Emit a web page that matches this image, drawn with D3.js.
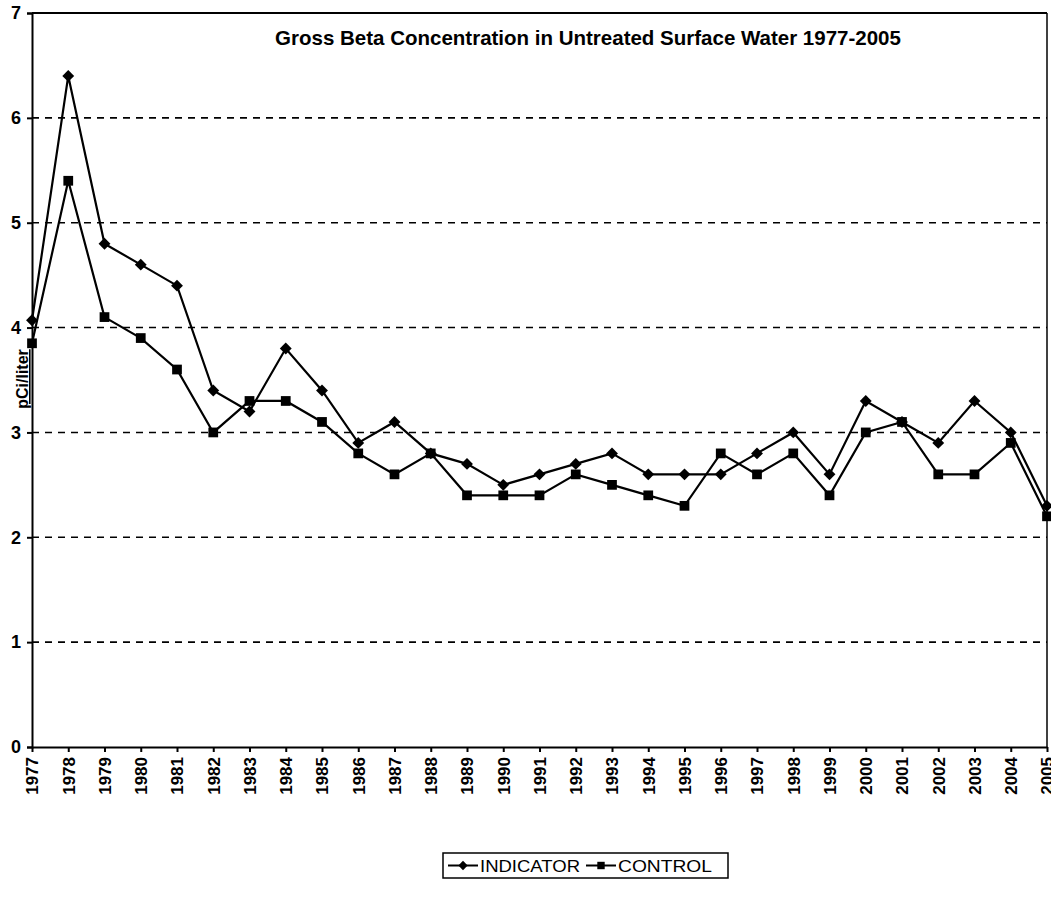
<!DOCTYPE html>
<html>
<head>
  <meta charset="utf-8">
  <title>Gross Beta Concentration</title>
  <script src="https://d3js.org/d3.v7.min.js"></script>
  <style>
    html, body { margin: 0; padding: 0; background: #fff; }
    svg { display: block; font-family: Arial, "Liberation Sans", sans-serif; }
  </style>
</head>
<body>
  <svg width="1051" height="906"></svg>
  <script>
    // Datos
    const years = d3.range(1977, 2006);
    const indicator = [4.07, 6.4, 4.8, 4.6, 4.4, 3.4, 3.2, 3.8, 3.4, 2.9, 3.1, 2.8, 2.7, 2.5, 2.6,
      2.7, 2.8, 2.6, 2.6, 2.6, 2.8, 3.0, 2.6, 3.3, 3.1, 2.9, 3.3, 3.0, 2.3];
    const control = [3.85, 5.4, 4.1, 3.9, 3.6, 3.0, 3.3, 3.3, 3.1, 2.8, 2.6, 2.8, 2.4, 2.4, 2.4,
      2.6, 2.5, 2.4, 2.3, 2.8, 2.6, 2.8, 2.4, 3.0, 3.1, 2.6, 2.6, 2.9, 2.2];
    const yTicks = [0, 1, 2, 3, 4, 5, 6, 7];

    const svg = d3.select("svg");
    const mLeft = 32, mRight = 1047, mTop = 13, mBottom = 747;

    const x = d3.scaleLinear().domain([1977, 2005]).range([mLeft, mRight]);
    const y = d3.scaleLinear().domain([0, 7]).range([mBottom, mTop]);

    // Rejilla
    svg.append("g").selectAll("line")
      .data(yTicks.filter(d => d > 0 && d < 7))
      .enter().append("line")
      .attr("x1", mLeft).attr("x2", mRight)
      .attr("y1", d => y(d)).attr("y2", d => y(d))
      .attr("stroke", "#000").attr("stroke-width", 1.6)
      .attr("stroke-dasharray", "7,6");

    // Marco
    svg.append("line").attr("x1", mLeft).attr("x2", mRight).attr("y1", mTop).attr("y2", mTop)
      .attr("stroke", "#000").attr("stroke-width", 2);
    svg.append("line").attr("x1", mRight).attr("x2", mRight).attr("y1", mTop).attr("y2", mBottom)
      .attr("stroke", "#000").attr("stroke-width", 1.5);

    // Ejes
    const yAxis = svg.append("g").attr("transform", `translate(${mLeft},0)`)
      .call(d3.axisLeft(y).tickValues(yTicks).tickSize(5).tickPadding(6).tickFormat(d3.format("d")));
    yAxis.selectAll("text").attr("font-size", 18).attr("font-weight", "bold").attr("fill", "#000");
    yAxis.selectAll("line, path").attr("stroke", "#000").attr("stroke-width", 2);

    const xAxis = svg.append("g").attr("transform", `translate(0,${mBottom})`)
      .call(d3.axisBottom(x).tickValues(years).tickSize(5).tickSizeOuter(0).tickFormat(d3.format("d")));
    xAxis.select("path").attr("stroke", "#000").attr("stroke-width", 2);
    xAxis.selectAll("line").attr("stroke", "#000").attr("stroke-width", 2);
    xAxis.selectAll("text")
      .attr("font-size", 17).attr("font-weight", "bold").attr("fill", "#000")
      .attr("text-anchor", "end")
      .attr("transform", "rotate(-90)")
      .attr("x", -10).attr("y", 0).attr("dy", "0.35em");

    // Título
    svg.append("text").attr("x", 588).attr("y", 45)
      .attr("text-anchor", "middle").attr("font-size", 20.5).attr("font-weight", "bold")
      .text("Gross Beta Concentration in Untreated Surface Water 1977-2005");

    // Etiqueta eje Y
    svg.append("text")
      .attr("transform", "translate(28,379) rotate(-90)")
      .attr("text-anchor", "middle").attr("font-size", 16).attr("font-weight", "bold")
      .attr("text-decoration", "underline")
      .text("pCi/liter");

    // Series
    const line = d3.line().x((d, i) => x(years[i])).y(d => y(d));
    const series = [
      { name: "INDICATOR", values: indicator, symbol: d3.symbolDiamond2, size: 90 },
      { name: "CONTROL", values: control, symbol: d3.symbolSquare, size: 95 }
    ];

    series.forEach(s => {
      svg.append("path").datum(s.values)
        .attr("d", line).attr("fill", "none")
        .attr("stroke", "#000").attr("stroke-width", 2.2);
      svg.append("g").selectAll("path")
        .data(s.values).enter().append("path")
        .attr("d", d3.symbol().type(s.symbol).size(s.size))
        .attr("transform", (d, i) => `translate(${x(years[i])},${y(d)})`)
        .attr("fill", "#000");
    });

    // Leyenda
    const lg = svg.append("g").attr("transform", "translate(443,853)");
    lg.append("rect").attr("width", 285).attr("height", 25)
      .attr("fill", "#fff").attr("stroke", "#000").attr("stroke-width", 1.5);
    let lx = 5;
    series.forEach(s => {
      lg.append("line").attr("x1", lx).attr("x2", lx + 30).attr("y1", 12.5).attr("y2", 12.5)
        .attr("stroke", "#000").attr("stroke-width", 2);
      lg.append("path").attr("d", d3.symbol().type(s.symbol).size(55))
        .attr("transform", `translate(${lx + 15},12.5)`).attr("fill", "#000");
      const t = lg.append("text").attr("x", lx + 32).attr("y", 19)
        .attr("font-size", 17).attr("textLength", s.name === "INDICATOR" ? 100 : 94)
        .attr("lengthAdjust", "spacingAndGlyphs").text(s.name);
      lx += 32 + (s.name === "INDICATOR" ? 100 : 94) + 6;
    });
  </script>
</body>
</html>
